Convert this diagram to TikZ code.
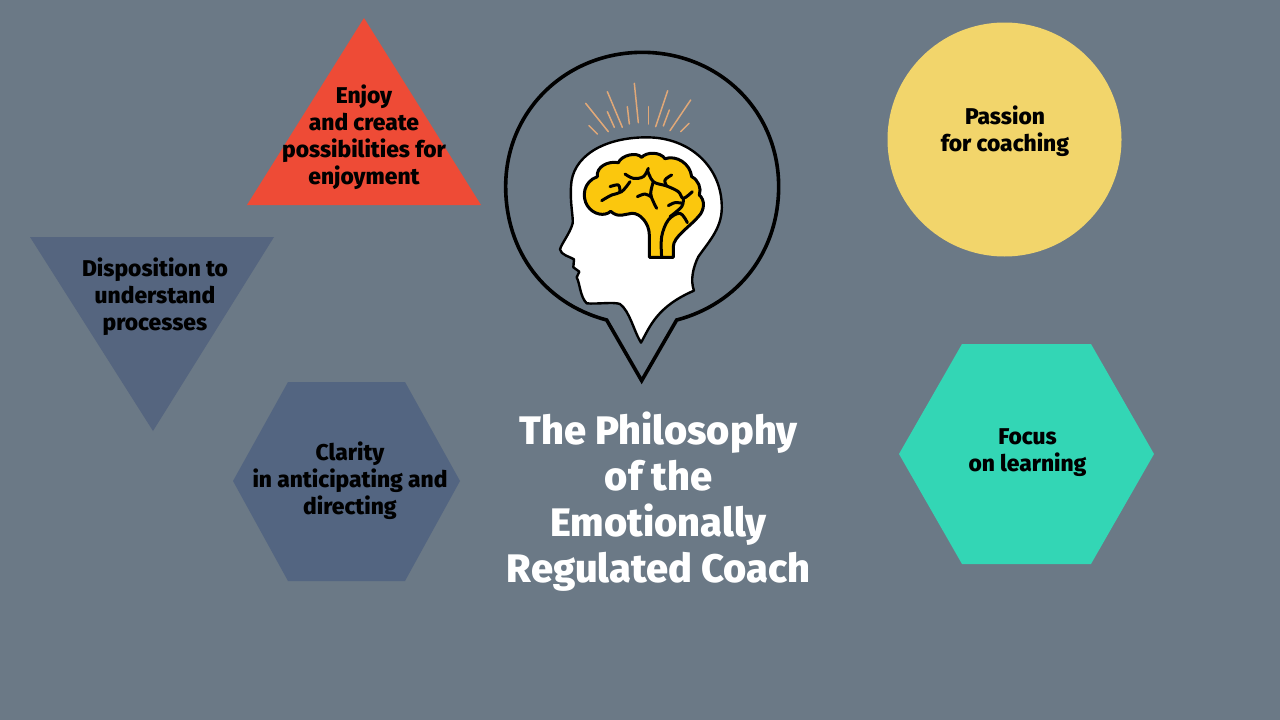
\documentclass[tikz,border=0pt]{standalone}
\usepackage{fontspec}
\setmainfont{Fira Sans}[BoldFont={Fira Sans ExtraBold}]
\definecolor{bgc}{HTML}{6B7986}
\definecolor{redc}{HTML}{EE4B36}
\definecolor{slatec}{HTML}{55657F}
\definecolor{hexc}{HTML}{536581}
\definecolor{greenc}{HTML}{33D6B5}
\definecolor{yellowc}{HTML}{F2D56B}
\definecolor{brainc}{HTML}{FBC70D}
\definecolor{rayc}{HTML}{E0A878}
\tikzset{
  lab/.style={align=center,text=black,font=\fontsize{22.8}{27}\selectfont\bfseries,inner sep=0pt},
  ttl/.style={align=center,text=white,font=\fontsize{39.8}{46}\selectfont\bfseries,inner sep=0pt},
  brainline/.style={draw=black,line width=3pt,line cap=round,line join=round},
  ray/.style={draw=rayc,line width=1.5pt,line cap=round}
}
\begin{document}
\begin{tikzpicture}[x=1pt,y=-1pt]
\useasboundingbox (0,0) rectangle (1280,720);
\fill[bgc] (0,0) rectangle (1280,720);
% shapes
\fill[redc] (364,18) -- (481,205) -- (247,205) -- cycle;
\fill[slatec] (30,237) -- (274,237) -- (153,431) -- cycle;
\fill[hexc] (288,382) -- (405,382) -- (460,481) -- (405,581) -- (288,581) -- (233,481) -- cycle;
\fill[greenc] (962,344) -- (1091,344) -- (1154,454) -- (1091,564) -- (962,564) -- (899,454) -- cycle;
\fill[yellowc] (1004.5,139.5) circle[radius=117];
% emblem, in 3x zoom units
\begin{scope}[shift={(490,40)},x=0.33333pt,y=-0.33333pt]
\draw[black,line width=3.6pt,line join=miter] (350,840) .. controls (160,790) and (47,630) .. (47,440)
  .. controls (47,210) and (230,37) .. (457,37)
  .. controls (685,37) and (866,210) .. (866,440)
  .. controls (866,630) and (750,790) .. (560,840) -- (455,1022) -- cycle;
\draw[fill=white,draw=black,line width=2.4pt,line join=round]
  (470,292) .. controls (340,292) and (245,350) .. (243,440)
  .. controls (240,490) and (250,530) .. (248,550)
  .. controls (240,580) and (215,610) .. (210,628)
  .. controls (212,645) and (240,650) .. (252,658)
  -- (250,682) -- (268,695) -- (260,712)
  .. controls (270,730) and (270,770) .. (290,790)
  .. controls (320,793) and (370,785) .. (390,792)
  .. controls (420,815) and (430,870) .. (453,908)
  .. controls (480,860) and (500,800) .. (612,752)
  .. controls (600,720) and (610,680) .. (625,650)
  .. controls (660,600) and (700,560) .. (695,490)
  .. controls (690,380) and (600,292) .. (470,292) -- cycle;
\foreach \a/\b/\c/\d in {287/190/355/275,352/155/397/262,352/215/373/262,412/200/418/252,433/130/445/248,475/200/475/252,533/152/497/260,538/210/520/258,602/180/540/272,597/250/572/275,297/257/322/282}
  \draw[ray] (\a,\b) -- (\c,\d);
\draw[brainline,fill=brainc] (478,652) -- (478,585)
  .. controls (478,550) and (450,518) .. (425,520)
  .. controls (405,522) and (385,535) .. (362,514)
  .. controls (345,530) and (310,525) .. (292,497)
  .. controls (275,470) and (280,425) .. (322,410)
  .. controls (318,380) and (355,362) .. (385,368)
  .. controls (395,345) and (440,335) .. (455,352)
  .. controls (470,335) and (510,335) .. (525,356)
  .. controls (560,345) and (600,370) .. (605,410)
  .. controls (625,420) and (635,445) .. (628,465)
  .. controls (645,480) and (645,510) .. (625,530)
  .. controls (600,560) and (550,590) .. (550,620) -- (550,652) -- cycle;
\draw[brainline] plot[smooth,tension=0.6] coordinates {(515,652)(515,590)(535,540)(570,520)(592,548)};
\draw[brainline] plot[smooth,tension=0.6] coordinates {(335,482)(365,465)(395,455)(420,425)};
\draw[brainline] plot[smooth,tension=0.6] coordinates {(360,440)(385,435)(390,455)};
\draw[brainline] plot[smooth,tension=0.6] coordinates {(405,402)(430,415)(460,410)(475,385)};
\draw[brainline] plot[smooth,tension=0.6] coordinates {(472,390)(490,425)(530,438)(565,455)(580,475)(607,455)};
\draw[brainline] plot[smooth,tension=0.6] coordinates {(490,425)(482,460)(490,485)(500,505)};
\draw[brainline] plot[smooth,tension=0.6] coordinates {(442,470)(465,462)(482,470)};
\draw[brainline] plot[smooth,tension=0.6] coordinates {(545,405)(525,420)(530,438)};
\draw[brainline] plot[smooth,tension=0.6] coordinates {(535,497)(555,488)(578,490)};
\draw[brainline] plot[smooth,tension=0.6] coordinates {(580,475)(575,500)(540,530)};
\end{scope}
% labels
\node[lab] (enjoy) at (364,137) {Enjoy\\and create\\possibilities for\\enjoyment};
\node[lab] (passion) at (1005,131) {Passion\\for coaching};
\node[lab] (disp) at (155,297) {Disposition to\\understand\\processes};
\node[lab] (clarity) at (350,481) {Clarity\\in anticipating and\\directing};
\node[lab] (focus) at (1027.5,452.5) {Focus\\on learning};
\node[ttl] (title) at (658.5,502) {The Philosophy\\of the\\Emotionally\\Regulated Coach};
\end{tikzpicture}
\end{document}
